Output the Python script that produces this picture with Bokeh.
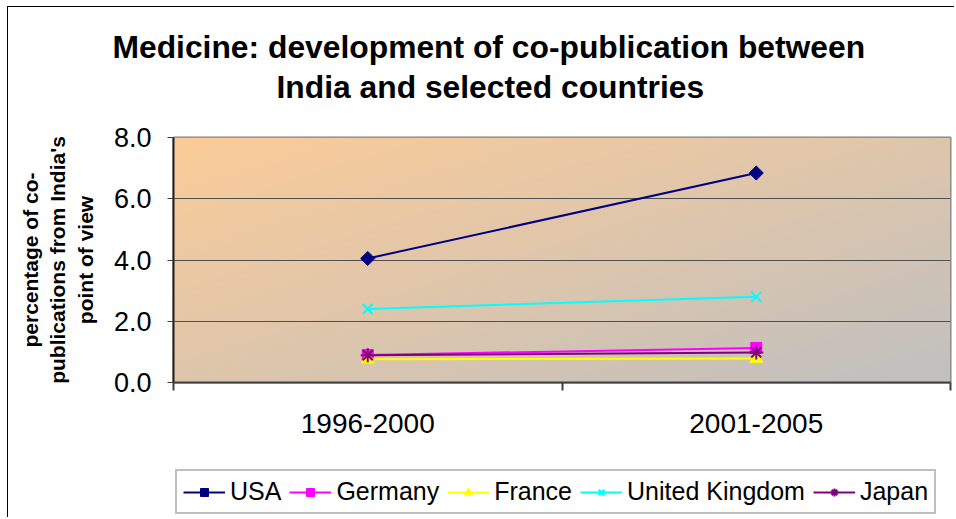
import numpy as np
from bokeh.plotting import figure
from bokeh.layouts import column
from bokeh.models import Range1d, FixedTicker, Title, Legend, LegendItem
from bokeh.embed import file_html
from bokeh.resources import INLINE

# ---- data ----
periods = ["1996-2000", "2001-2005"]
usa = [4.05, 6.84]
germany = [0.90, 1.13]
france = [0.76, 0.78]
uk = [2.40, 2.80]
japan = [0.89, 0.98]
y_ticks = [0, 2, 4, 6, 8]
y_max = 8

title_line1 = "Medicine: development of co-publication between"
title_line2 = "India and selected countries"
y_label = "percentage of co-\npublications from India's\npoint of view"

FONT = "Liberation Sans"

xs = [i + 0.5 for i in range(len(periods))]
bounds = list(range(len(periods) + 1))

LINE_BORDER = {
    "background-image": "linear-gradient(#000,#000), linear-gradient(#000,#000)",
    "background-size": "1px 100%, 100% 1px",
    "background-position": "7px 6px, 7px 6px",
    "background-repeat": "no-repeat",
}


def add_series(fig):
    items = []
    l = fig.line(xs, usa, line_color="#000080", line_width=2)
    m = fig.scatter(xs, usa, marker="square", angle=np.pi / 4, size=10,
                    fill_color="#000080", line_color="#000080")
    items.append(LegendItem(label="USA", renderers=[l, m]))
    l = fig.line(xs, germany, line_color="#FF00FF", line_width=2)
    m = fig.scatter(xs, germany, marker="square", size=11,
                    fill_color="#FF00FF", line_color="#FF00FF")
    items.append(LegendItem(label="Germany", renderers=[l, m]))
    l = fig.line(xs, france, line_color="#FFFF00", line_width=2)
    m = fig.scatter(xs, france, marker="triangle", size=13,
                    fill_color="#FFFF00", line_color="#FFFF00")
    items.append(LegendItem(label="France", renderers=[l, m]))
    l = fig.line(xs, uk, line_color="#00FFFF", line_width=2)
    m = fig.scatter(xs, uk, marker="x", size=14, line_width=2,
                    line_color="#00FFFF")
    items.append(LegendItem(label="United Kingdom", renderers=[l, m]))
    l = fig.line(xs, japan, line_color="#800080", line_width=2)
    m = fig.scatter(xs, japan, marker="asterisk", size=14, line_width=2,
                    line_color="#800080")
    items.append(LegendItem(label="Japan", renderers=[l, m]))
    return items


# ---------------- main chart ----------------
p = figure(width=954, height=466, output_backend="svg", toolbar_location=None,
           x_range=Range1d(0, len(periods)), y_range=Range1d(0, y_max),
           min_border_left=173, min_border_right=4, min_border_top=137,
           min_border_bottom=84, title=None)
p.styles = LINE_BORDER
p.background_fill_color = None
p.border_fill_color = None
p.outline_line_color = "#808080"
p.outline_line_width = 2

# gradient plot-area background
H, W = 250, 780
u = np.linspace(0, 1, W)[None, :]
v = np.linspace(0, 1, H)[:, None]
t = (u + (1 - v)) / 2
c0 = np.array([252, 204, 152])
c1 = np.array([192, 192, 192])
img = np.empty((H, W), dtype=np.uint32)
view = img.view(dtype=np.uint8).reshape((H, W, 4))
for k in range(3):
    view[:, :, k] = (c0[k] + (c1[k] - c0[k]) * t).astype(np.uint8)
view[:, :, 3] = 255
p.image_rgba(image=[img], x=0, y=0, dw=len(periods), dh=y_max, level="image")

# titles: spacer (closest to plot), line 2, line 1
p.add_layout(Title(text="\u00a0", text_font=FONT, text_font_size="10px",
                   standoff=19), "above")
p.add_layout(Title(text=title_line2, text_font=FONT, text_font_size="31.8px",
                   text_font_style="bold", align="left", offset=103,
                   standoff=2, text_color="black"), "above")
p.add_layout(Title(text=title_line1, text_font=FONT, text_font_size="31.8px",
                   text_font_style="bold", align="left", offset=-61,
                   standoff=2, text_color="black"), "above")

# axes
p.xaxis.ticker = FixedTicker(ticks=xs, minor_ticks=bounds)
p.xaxis.major_label_overrides = {x: lab for x, lab in zip(xs, periods)}
p.xaxis.major_tick_out = 0
p.xaxis.major_tick_in = 0
p.xaxis.minor_tick_out = 8
p.xaxis.minor_tick_in = 0
p.xaxis.minor_tick_line_color = "#404040"
p.xaxis.minor_tick_line_width = 2
p.xaxis.axis_line_color = "#404040"
p.xaxis.axis_line_width = 2
p.xaxis.major_label_text_font = FONT
p.xaxis.major_label_text_font_size = "28px"
p.xaxis.major_label_text_color = "black"
p.xaxis.major_label_standoff = 23

p.yaxis.ticker = FixedTicker(ticks=y_ticks)
p.yaxis.major_label_overrides = {y: f"{y:.1f}" for y in y_ticks}
p.yaxis.minor_tick_line_color = None
p.yaxis.major_tick_out = 6
p.yaxis.major_tick_in = 0
p.yaxis.major_tick_line_color = "#404040"
p.yaxis.axis_line_color = "#202020"
p.yaxis.axis_line_width = 2
p.yaxis.major_label_text_font = FONT
p.yaxis.major_label_text_font_size = "27px"
p.yaxis.major_label_text_color = "black"
p.yaxis.major_label_standoff = 16
p.yaxis.axis_label = y_label
p.yaxis.axis_label_text_font = FONT
p.yaxis.axis_label_text_font_size = "21px"
p.yaxis.axis_label_text_font_style = "bold"
p.yaxis.axis_label_text_color = "black"
p.yaxis.axis_label_standoff = 14

p.xgrid.grid_line_color = None
p.ygrid.grid_line_color = "#505050"
p.ygrid.grid_line_width = 1

add_series(p)

# ---------------- legend strip ----------------
p2 = figure(width=954, height=51, output_backend="svg", toolbar_location=None,
            x_range=Range1d(10, 11), y_range=Range1d(10, 11),
            x_axis_location=None, y_axis_location=None, min_border=0,
            title=None)
p2.styles = {
    "background-image": "linear-gradient(#000,#000)",
    "background-size": "1px 100%",
    "background-position": "7px 0px",
    "background-repeat": "no-repeat",
}
p2.background_fill_color = None
p2.border_fill_color = None
p2.outline_line_color = None
p2.grid.visible = False

legend_items = add_series(p2)
legend = Legend(items=legend_items, orientation="horizontal", location=(2, 3),
                label_text_font=FONT, label_text_font_size="25px",
                label_text_color="black", glyph_width=42, glyph_height=20,
                label_standoff=5, spacing=8, padding=6, margin=0,
                border_line_color="#808080", border_line_width=2,
                background_fill_color="white", background_fill_alpha=1.0)
p2.add_layout(legend, "center")

layout = column(p, p2, spacing=0)

open("out.html", "w").write(file_html(layout, INLINE))
